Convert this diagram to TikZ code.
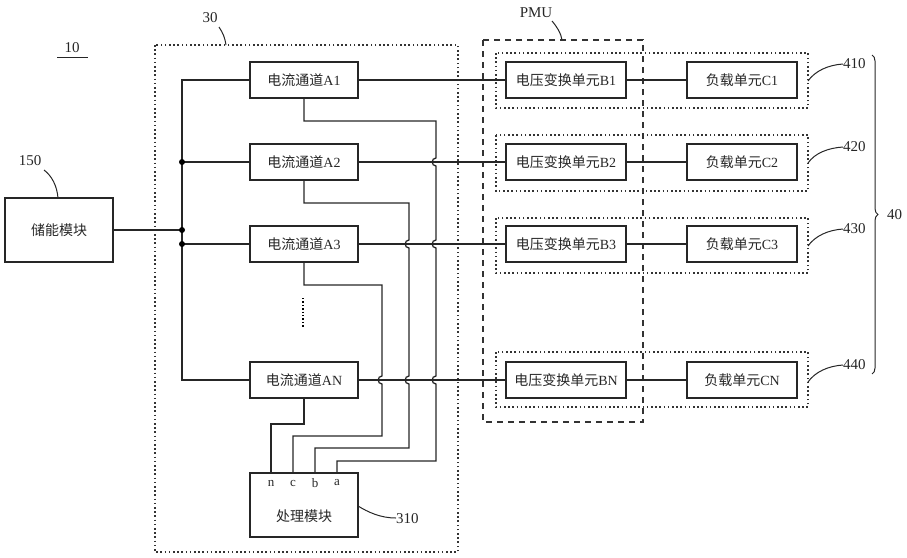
\documentclass[tikz,border=0pt]{standalone}
\usepackage{fontspec}
\setmainfont{Liberation Serif}
\newfontfamily\cjk{Noto Sans CJK SC}
\usetikzlibrary{calc,decorations.pathreplacing}
\begin{document}
\begin{tikzpicture}[x=1pt,y=-1pt,
  wire/.style={line width=1.3pt,black!85},
  blk/.style={draw,line width=1.3pt,black!85,minimum height=36pt,inner sep=0pt,font=\fontsize{14}{16}\selectfont},
  dotbox/.style={draw,line width=1.3pt,black!80,dash pattern=on 1.6pt off 2.6pt},
  dashbox/.style={draw,line width=1.3pt,black!80,dash pattern=on 6pt off 5pt},
  lbl/.style={font=\fontsize{15}{17}\selectfont,inner sep=0pt,black!85},
  pin/.style={font=\fontsize{13}{15}\selectfont,inner sep=0pt,black!85},
  lead/.style={line width=1pt,black!85},
  dotj/.style={circle,fill=black,inner sep=0pt,minimum size=6pt}]
\useasboundingbox (0,0) rectangle (907,557);

% frames
\draw[dotbox] (155,45) rectangle (458,552);
\draw[dashbox] (483,40) rectangle (643,422);
\draw[dotbox] (496,53) rectangle (808,108);
\draw[dotbox] (496,135) rectangle (808,191);
\draw[dotbox] (496,218) rectangle (808,273);
\draw[dotbox] (496,352) rectangle (808,407);

% blocks
\node[blk,minimum width=108pt,minimum height=64pt] (S) at (59,230) {\cjk 储能模块};
\node[blk,minimum width=108pt] (A1) at (304,80) {{\cjk 电流通道}A1};
\node[blk,minimum width=108pt] (A2) at (304,162) {{\cjk 电流通道}A2};
\node[blk,minimum width=108pt] (A3) at (304,244) {{\cjk 电流通道}A3};
\node[blk,minimum width=108pt] (AN) at (304,380) {{\cjk 电流通道}AN};
\node[blk,minimum width=108pt,minimum height=64pt] (P) at (304,505) {};
\node[font=\fontsize{14}{16}\selectfont,inner sep=0pt,black!85] (Ptext) at (304,516) {\cjk 处理模块};
\node[pin] (pn) at (271,483) {n};
\node[pin] (pc) at (293,483) {c};
\node[pin] (pb) at (315,483) {b};
\node[pin] (pa) at (337,483) {a};

\node[blk,minimum width=120pt] (B1) at (566,80) {{\cjk 电压变换单元}B1};
\node[blk,minimum width=120pt] (B2) at (566,162) {{\cjk 电压变换单元}B2};
\node[blk,minimum width=120pt] (B3) at (566,244) {{\cjk 电压变换单元}B3};
\node[blk,minimum width=120pt] (BN) at (566,380) {{\cjk 电压变换单元}BN};
\node[blk,minimum width=110pt] (C1) at (742,80) {{\cjk 负载单元}C1};
\node[blk,minimum width=110pt] (C2) at (742,162) {{\cjk 负载单元}C2};
\node[blk,minimum width=110pt] (C3) at (742,244) {{\cjk 负载单元}C3};
\node[blk,minimum width=110pt] (CN) at (742,380) {{\cjk 负载单元}CN};

% bus
\coordinate (J0) at (182,230);
\draw[wire] (S.east) -- (J0);
\draw[wire] (A1.west) -| (182,380) -- (AN.west);
\draw[wire] (182,162) -- (A2.west);
\draw[wire] (182,244) -- (A3.west);
\node[dotj] at (182,162) {};
\node[dotj] at (J0) {};
\node[dotj] at (182,244) {};
\draw[line width=1.5pt,dash pattern=on 1.4pt off 2pt] (303,298) -- (303,328);

% A -> B -> C
\draw[wire] (A1.east) -- (B1.west);
\draw[wire] (A2.east) -- (B2.west);
\draw[wire] (A3.east) -- (B3.west);
\draw[wire] (AN.east) -- (BN.west);
\draw[wire] (B1.east) -- (C1.west);
\draw[wire] (B2.east) -- (C2.west);
\draw[wire] (B3.east) -- (C3.west);
\draw[wire] (BN.east) -- (CN.west);

% signal wires with hops
\draw[wire] (A1.south) -- (304,121) -- (436,121) -- (436,158)
  .. controls (431,158) and (431,166) .. (436,166) -- (436,240)
  .. controls (431,240) and (431,248) .. (436,248) -- (436,376)
  .. controls (431,376) and (431,384) .. (436,384) -- (436,461) -- (337,461) -- (337,473);
\draw[wire] (A2.south) -- (304,203) -- (409,203) -- (409,240)
  .. controls (404,240) and (404,248) .. (409,248) -- (409,376)
  .. controls (404,376) and (404,384) .. (409,384) -- (409,448) -- (315,448) -- (315,473);
\draw[wire] (A3.south) -- (304,285) -- (382,285) -- (382,376)
  .. controls (377,376) and (377,384) .. (382,384) -- (382,436) -- (293,436) -- (293,473);
\draw[wire] (AN.south) -- (304,424) -- (271,424) -- (271,473);

% labels
\node[lbl] (L10) at (72,48) {10};
\draw[lead] (57,57) -- (88,57);
\node[lbl] (L150) at (30,161) {150};
\draw[lead] (44,170) .. controls (52,176) and (57,186) .. (58,198);
\node[lbl] (L30) at (210,18) {30};
\draw[lead] (219,27) .. controls (223,33) and (225,38) .. (226,45);
\node[lbl] (LPMU) at (536,13) {PMU};
\draw[lead] (552,21) .. controls (557,27) and (561,33) .. (562,40);
\node[lbl,anchor=west] (L310) at (396,519) {310};
\draw[lead] (358,506) .. controls (368,512) and (380,518) .. (396,518);
\node[lbl,anchor=west] (L410) at (843,64) {410};
\draw[lead] (808,81) .. controls (815,71) and (828,65) .. (843,64);
\node[lbl,anchor=west] (L420) at (843,147) {420};
\draw[lead] (808,163) .. controls (815,153) and (828,148) .. (843,147);
\node[lbl,anchor=west] (L430) at (843,229) {430};
\draw[lead] (808,246) .. controls (815,236) and (828,230) .. (843,229);
\node[lbl,anchor=west] (L440) at (843,365) {440};
\draw[lead] (808,382) .. controls (815,372) and (828,366) .. (843,365);
\draw[lead,decorate,decoration={brace,amplitude=6pt}] (872,55) -- (872,374);
\node[lbl,anchor=west] (L40) at (887,215) {40};
\end{tikzpicture}
\end{document}
